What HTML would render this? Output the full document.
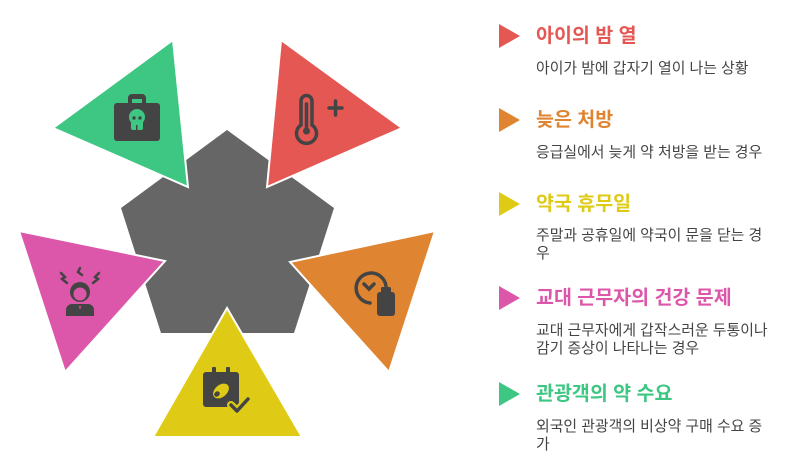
<!DOCTYPE html>
<html><head><meta charset="utf-8"><style>
html,body{margin:0;padding:0;background:#fff;width:797px;height:475px;overflow:hidden;position:relative}
.t{position:absolute;left:536px;font-family:"Liberation Sans","Noto Sans CJK KR",sans-serif;font-weight:bold;font-size:19.5px;line-height:24px;white-space:nowrap}
.d{position:absolute;left:536px;font-family:"Liberation Sans","Noto Sans CJK KR",sans-serif;font-size:14.9px;line-height:18px;color:#444;white-space:nowrap}
</style></head><body>
<svg width="797" height="475" style="position:absolute;left:0;top:0">
<polygon points="227,130 334,208 294,333 161,333 121,208" fill="#666"/>
<g stroke="#fff" stroke-width="2" stroke-linejoin="miter">
<polygon points="173,40 53,128 188,187" fill="#3ec683"/>
<polygon points="281,40 402,128 267,187" fill="#e55753"/>
<polygon points="435,231 389,372 290,262" fill="#df8430"/>
<polygon points="227,308 153,437 302,437" fill="#dfcb16"/>
<polygon points="19,231 165,261 65,372" fill="#dc57a9"/>
</g>
<g fill="#444">
<rect x="114" y="103" width="46" height="38" rx="3"/>
<path d="M128,104 v-6 a4,4 0 0 1 4,-4 h10 a4,4 0 0 1 4,4 v6 h-4 v-5 h-10 v5z"/>
</g>
<g fill="#3ec683"><circle cx="137" cy="117" r="8"/><rect x="131" y="120" width="12" height="10" rx="2"/></g>
<circle cx="134" cy="118" r="1.7" fill="#444"/><circle cx="140" cy="118" r="1.7" fill="#444"/>
<rect x="136" y="125" width="1.5" height="5" fill="#444"/>
<g fill="none" stroke="#444" stroke-width="3.5" stroke-linecap="round">
<path d="M301,125 V101 a5.5,5.5 0 0 1 11,0 V125 a10,10 0 1 1 -11,0z"/>
<line x1="306.5" y1="104" x2="306.5" y2="128"/>
<line x1="329" y1="108" x2="342" y2="108"/><line x1="335.5" y1="101" x2="335.5" y2="115"/>
</g>
<circle cx="306.5" cy="131" r="3.5" fill="#444"/>
<g fill="none" stroke="#444" stroke-width="3.5" stroke-linecap="round">
<path d="M386,286 A15,15 0 1 0 370,303"/>
<path d="M364,284 l5,5 l5,-5"/>
</g>
<rect x="377" y="292" width="18" height="24" rx="3" fill="#444"/>
<rect x="381" y="287" width="10" height="7" rx="1.5" fill="#444"/>
<g fill="#444">
<rect x="203" y="372" width="36" height="35" rx="3"/>
<rect x="212" y="367" width="4" height="9" rx="1"/><rect x="226" y="367" width="4" height="9" rx="1"/>
</g>
<ellipse cx="221" cy="391" rx="9" ry="6" transform="rotate(-40 221 391)" fill="#dfcb16"/>
<ellipse cx="217" cy="394" rx="3" ry="2.5" transform="rotate(-40 217 394)" fill="#444"/>
<path d="M231,405 l6,6 l11,-12" fill="none" stroke="#dfcb16" stroke-width="8" stroke-linecap="round"/>
<path d="M231,405 l6,6 l11,-12" fill="none" stroke="#444" stroke-width="3.5" stroke-linecap="round" stroke-linejoin="round"/>
<g fill="#444">
<path d="M66,316 v-6 a6,6 0 0 1 6,-6 h16 a6,6 0 0 1 6,6 v6z"/>
<circle cx="80" cy="292" r="10"/>
</g>
<circle cx="80" cy="294" r="6.5" fill="#dc57a9"/>
<path d="M79,306 l1,4 l1,-4z" fill="#dc57a9"/>
<g fill="none" stroke="#444" stroke-width="2.5" stroke-linecap="round">
<path d="M61,273 l4,4 l-3,2 l5,4"/><path d="M80,268 l-2,4 l4,3"/><path d="M99,273 l-4,4 l3,2 l-5,4"/>
</g>
<polygon points="499,24 520,36 499,48" fill="#e55753"/>
<polygon points="499,108 520,120 499,132" fill="#df8430"/>
<polygon points="499,192 520,204 499,216" fill="#dfcb16"/>
<polygon points="499,286 520,298 499,310" fill="#dc57a9"/>
<polygon points="499,382 520,394 499,406" fill="#3ec683"/>
</svg>
<div class="t" style="top:24px;color:#e55753">아이의 밤 열</div>
<div class="d" style="top:60px">아이가 밤에 갑자기 열이 나는 상황</div>
<div class="t" style="top:108px;color:#df8430">늦은 처방</div>
<div class="d" style="top:144px">응급실에서 늦게 약 처방을 받는 경우</div>
<div class="t" style="top:192px;color:#dfcb16">약국 휴무일</div>
<div class="d" style="top:227px">주말과 공휴일에 약국이 문을 닫는 경<br>우</div>
<div class="t" style="top:286px;color:#dc57a9">교대 근무자의 건강 문제</div>
<div class="d" style="top:322px">교대 근무자에게 갑작스러운 두통이나<br>감기 증상이 나타나는 경우</div>
<div class="t" style="top:382px;color:#3ec683">관광객의 약 수요</div>
<div class="d" style="top:418px">외국인 관광객의 비상약 구매 수요 증<br>가</div>
</body></html>
